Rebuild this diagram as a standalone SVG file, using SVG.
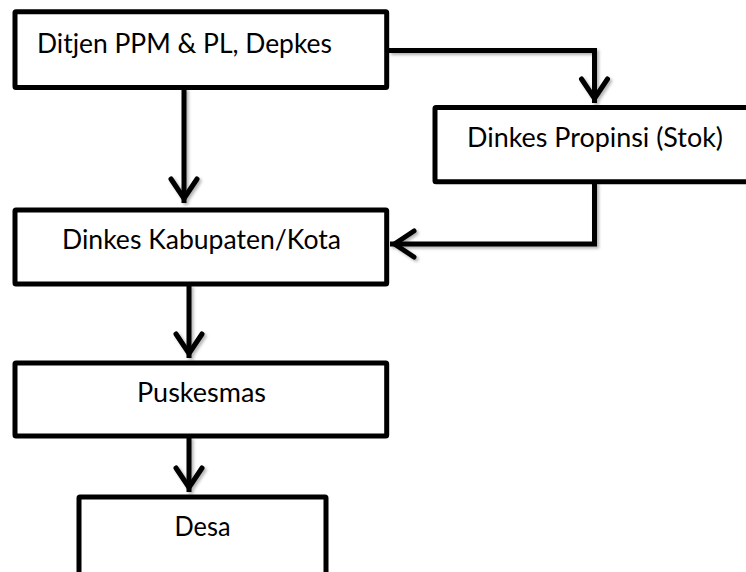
<svg xmlns="http://www.w3.org/2000/svg" width="746" height="572" viewBox="0 0 746 572">
  <style>
    .box { fill: #ffffff; stroke: #000000; stroke-width: 5; }
    .lbl { font-family: "Lato", "Open Sans", "Liberation Sans", sans-serif; font-size: 26px; fill: #000000; }
    .mid { text-anchor: middle; }
    .conn { fill: none; stroke: #000000; stroke-width: 5; stroke-linejoin: miter; }
  </style>
  <defs>
    <filter id="sh" x="-20%" y="-20%" width="140%" height="140%">
      <feDropShadow dx="2" dy="2" stdDeviation="1.5" flood-color="#000" flood-opacity="0.3"/>
    </filter>
    <marker id="arr" viewBox="-30 -18 40 36" refX="0" refY="0" markerWidth="40" markerHeight="36" markerUnits="userSpaceOnUse" orient="auto" overflow="visible">
      <path d="M-24,-13 L-4.5,0 L-24,13" fill="none" stroke="#000" stroke-width="5" stroke-linecap="round" stroke-linejoin="miter"/>
    </marker>
  </defs>

  <g id="connectors" filter="url(#sh)">
    <path class="conn" d="M184,88 V203" marker-end="url(#arr)"/>
    <path class="conn" d="M389,50.5 H594.5 V103" marker-end="url(#arr)"/>
    <path class="conn" d="M594.5,182 V244 H390" marker-end="url(#arr)"/>
    <path class="conn" d="M189,285 V358" marker-end="url(#arr)"/>
    <path class="conn" d="M189,437 V492" marker-end="url(#arr)"/>
  </g>

  <g id="node-ditjen">
    <rect class="box" x="15" y="11.7" width="371.7" height="75.8" rx="1"/>
    <text class="lbl" x="37" y="53" textLength="295" lengthAdjust="spacingAndGlyphs">Ditjen PPM &amp; PL, Depkes</text>
  </g>
  <g id="node-propinsi">
    <rect class="box" x="435" y="107.5" width="320" height="74.2" rx="1"/>
    <text class="lbl mid" x="595" y="147" textLength="256" lengthAdjust="spacingAndGlyphs">Dinkes Propinsi (Stok)</text>
  </g>
  <g id="node-kabupaten">
    <rect class="box" x="15" y="210" width="371.7" height="74" rx="1"/>
    <text class="lbl mid" x="201.5" y="249" textLength="279" lengthAdjust="spacingAndGlyphs">Dinkes Kabupaten/Kota</text>
  </g>
  <g id="node-puskesmas">
    <rect class="box" x="15" y="363" width="371.7" height="73" rx="1"/>
    <text class="lbl mid" x="201.5" y="402" textLength="129" lengthAdjust="spacingAndGlyphs">Puskesmas</text>
  </g>
  <g id="node-desa">
    <rect class="box" x="79" y="497" width="247" height="90" rx="1"/>
    <text class="lbl mid" x="202.5" y="536" textLength="56" lengthAdjust="spacingAndGlyphs">Desa</text>
  </g>
</svg>
